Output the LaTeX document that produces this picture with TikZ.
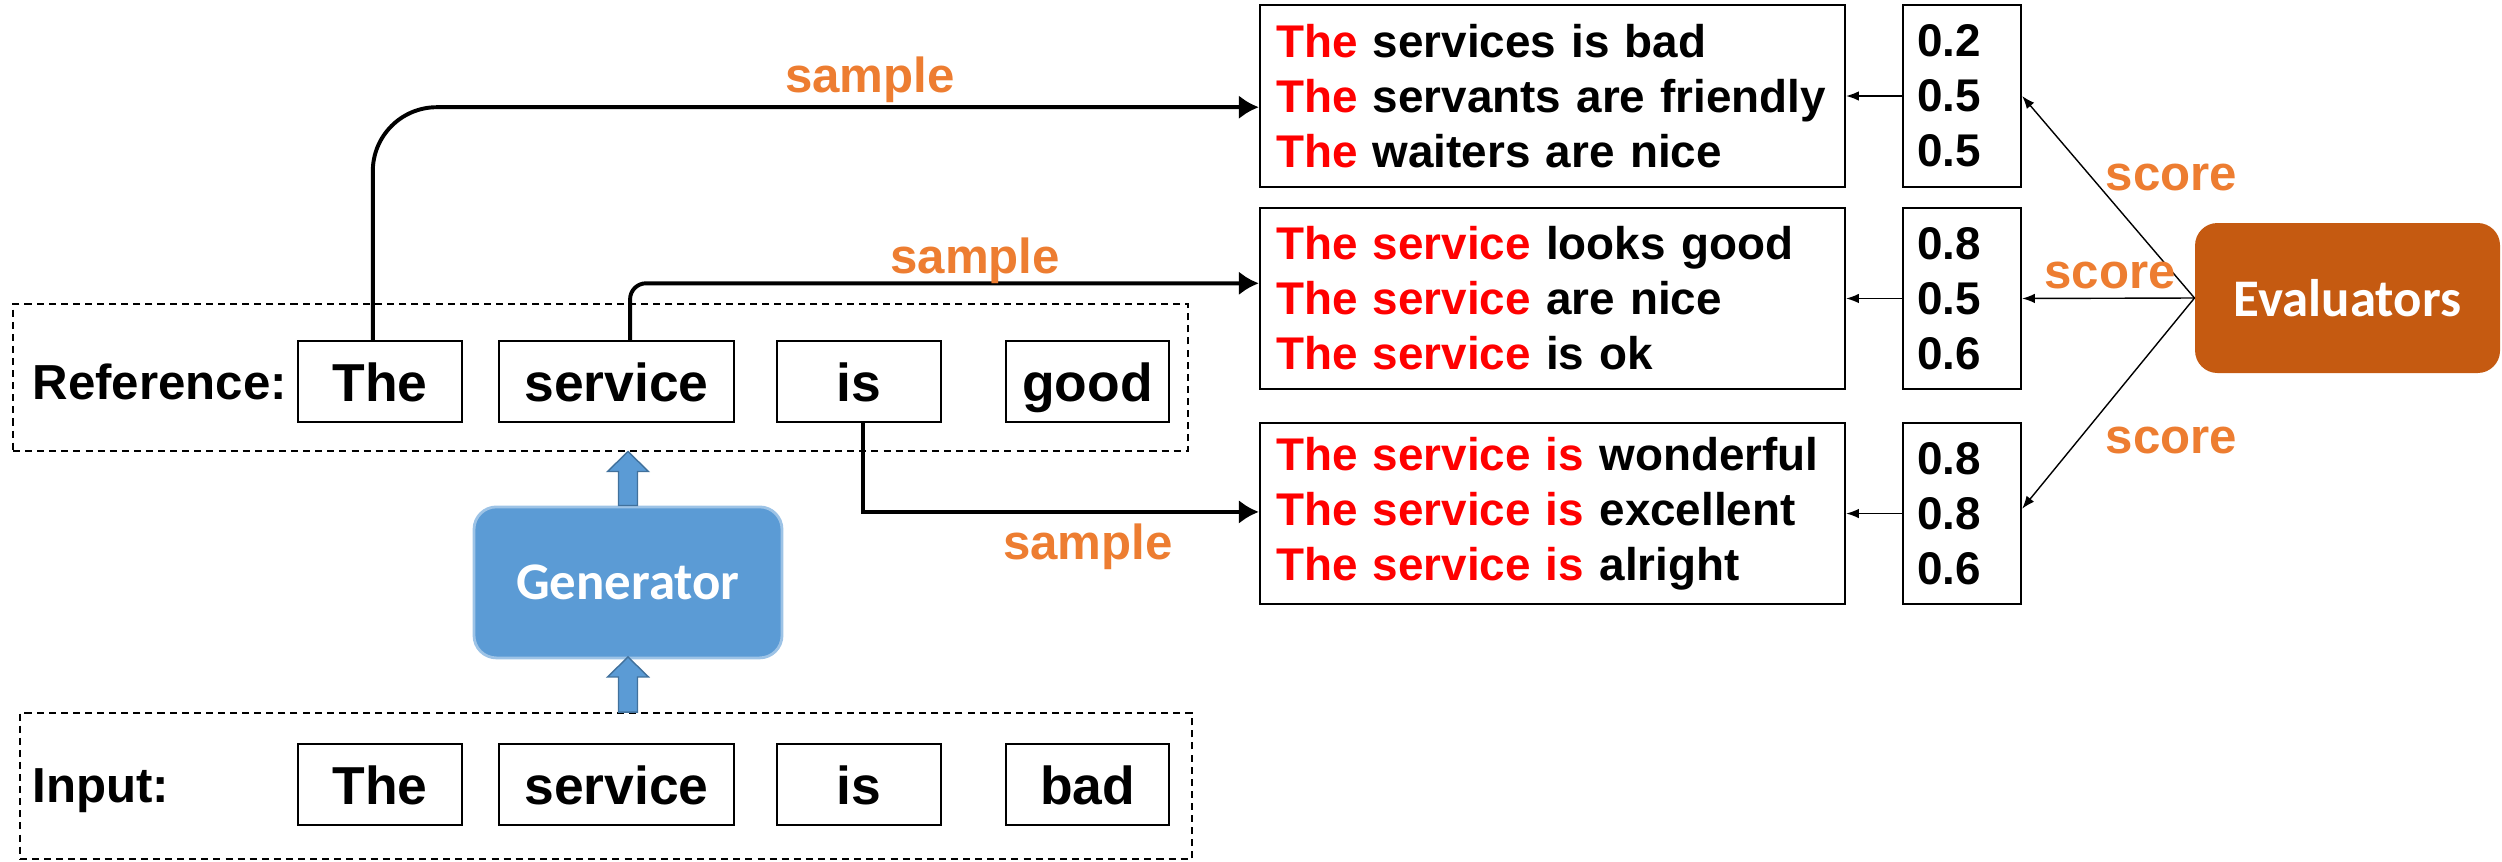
\documentclass[tikz,border=0pt]{standalone}
\usepackage{fontspec}
\setmainfont{Liberation Sans}
\newfontfamily\calibri{Carlito}
\usepackage{tikz}
\usepackage{color}
\usetikzlibrary{shapes,arrows,arrows.meta,positioning}

\definecolor{genblue}{HTML}{5B9BD5}
\definecolor{genedge}{HTML}{9DC3E6}
\definecolor{arrowedge}{HTML}{41719C}
\definecolor{evalorange}{HTML}{C55A11}
\definecolor{lblorange}{HTML}{ED7D31}
\definecolor{hlred}{HTML}{FF0000}
\newcommand{\hl}[1]{\textcolor{hlred}{#1}}

\begin{document}
\begin{tikzpicture}[>=latex, font=\bfseries]
      \tikzstyle{word}=[draw, line width=0.8pt, minimum height=1.0125cm, inner sep=0pt, text height=13.9pt, text depth=0pt, font=\bfseries\fontsize{19}{22}\selectfont]
      \tikzstyle{frame}=[draw, line width=0.6pt, dash pattern=on 2.5pt off 1.8pt]
      \tikzstyle{cand}=[draw, line width=0.8pt, align=left, text width=6.9125cm, inner xsep=0.2cm, minimum height=2.27cm, font=\bfseries\fontsize{16.3}{19.6}\selectfont]
      \tikzstyle{scorebox}=[cand, text width=1.125cm, inner xsep=0.175cm]
      \tikzstyle{lbl}=[text=lblorange, anchor=base, font=\bfseries\fontsize{17.5}{21}\selectfont]
      \tikzstyle{rowlabel}=[anchor=west, inner sep=0pt, text height=12.8pt, text depth=0pt, font=\bfseries\fontsize{17.5}{21}\selectfont]
      \tikzstyle{sample}=[line width=1.4pt, -{Latex[length=0.25cm,width=0.3cm]}]
      \tikzstyle{thin}=[line width=0.5pt, -{Latex[length=0.16cm,width=0.12cm]}]
      \tikzstyle{blockarrow}=[fill=genblue, draw=arrowedge, line width=0.5pt]
      \tikzstyle{module}=[rounded corners=0.28cm, minimum width=3.85cm, minimum height=1.8875cm, text=white, font=\calibri\bfseries\fontsize{18.8}{22}\selectfont]

      \useasboundingbox (0,0) rectangle (31.275,-10.7625);

      % reference sentence
      \node[frame, minimum width=14.6875cm, minimum height=1.8375cm] (refframe) at (7.50625,-4.71875) {};
      \node[rowlabel] (reflabel) at (0.4,-4.77) {Reference:};
      \node[word, minimum width=2.05cm] (w1) at (4.75,-4.769) {The};
      \node[word, minimum width=2.9375cm] (w2) at (7.706,-4.769) {service};
      \node[word, minimum width=2.05cm] (w3) at (10.7375,-4.769) {is};
      \node[word, minimum width=2.04cm] (w4) at (13.594,-4.769) {good};

      % input sentence
      \node[frame, minimum width=14.65cm, minimum height=1.825cm] (inframe) at (7.575,-9.825) {};
      \node[rowlabel] (inlabel) at (0.4,-9.81) {Input:};
      \node[word, minimum width=2.05cm] (i1) at (4.75,-9.81) {The};
      \node[word, minimum width=2.9375cm] (i2) at (7.706,-9.81) {service};
      \node[word, minimum width=2.05cm] (i3) at (10.7375,-9.81) {is};
      \node[word, minimum width=2.04cm] (i4) at (13.594,-9.81) {bad};

      % generator
      \node[module, fill=genblue, draw=genedge, line width=1pt] (gen) at (7.85,-7.28) {Generator};
      \draw[blockarrow] ([xshift=-0.119cm]gen.north) -- ++(0,0.425) -- ++(-0.137,0) -- ++(0.256,0.25)
            -- ++(0.256,-0.25) -- ++(-0.137,0) -- ++(0,-0.425) -- cycle;
      \draw[blockarrow] ([xshift=-0.119cm]inframe.north -| gen) -- ++(0,0.44) -- ++(-0.137,0) -- ++(0.256,0.25)
            -- ++(0.256,-0.25) -- ++(-0.137,0) -- ++(0,-0.44) -- cycle;

      % sampled candidates
      \node[cand] (c1) at (19.406,-1.2) {\hl{The} services is bad\\\hl{The} servants are friendly\\\hl{The} waiters are nice};
      \node[cand] (c2) at (19.406,-3.731) {\hl{The service} looks good\\\hl{The service} are nice\\\hl{The service} is ok};
      \node[cand] (c3) at (19.406,-6.419) {\hl{The service is} wonderful\\\hl{The service is} excellent\\\hl{The service is} alright};

      \node[scorebox] (s1) at (24.525,-1.2) {0.2\\0.5\\0.5};
      \node[scorebox] (s2) at (24.525,-3.731) {0.8\\0.5\\0.6};
      \node[scorebox] (s3) at (24.525,-6.419) {0.8\\0.8\\0.6};

      % evaluators
      \node[module, fill=evalorange, minimum width=3.8125cm, minimum height=1.875cm] (eval) at (29.344,-3.725) {Evaluators};

      \draw[sample, rounded corners=0.8cm] ([xshift=-0.09cm]w1.north) |- ([yshift=-0.14cm]c1.west);
      \draw[sample, rounded corners=0.2cm] ([xshift=0.17cm]w2.north) |- ([yshift=0.19cm]c2.west);
      \draw[sample] ([xshift=0.05cm]w3.south) |- ([yshift=0.02cm]c3.west);
      \node[lbl] (smp1) at (10.875,-1.15) {sample};
      \node[lbl] (smp2) at (12.19,-3.4125) {sample};
      \node[lbl] (smp3) at (13.6,-6.9875) {sample};

      \draw[thin] (s1.west) -- (c1.east);
      \draw[thin] (s2.west) -- (c2.east);
      \draw[thin] (s3.west) -- (c3.east);
      \draw[thin] (eval.west) -- (s1.east);
      \draw[thin] (eval.west) -- (s2.east);
      \draw[thin] (eval.west) -- ([yshift=0.06cm]s3.east);
      \node[lbl] (sc1) at (27.144,-2.375) {score};
      \node[lbl] (sc2) at (26.375,-3.6) {score};
      \node[lbl] (sc3) at (27.144,-5.6625) {score};
\end{tikzpicture}
\end{document}
